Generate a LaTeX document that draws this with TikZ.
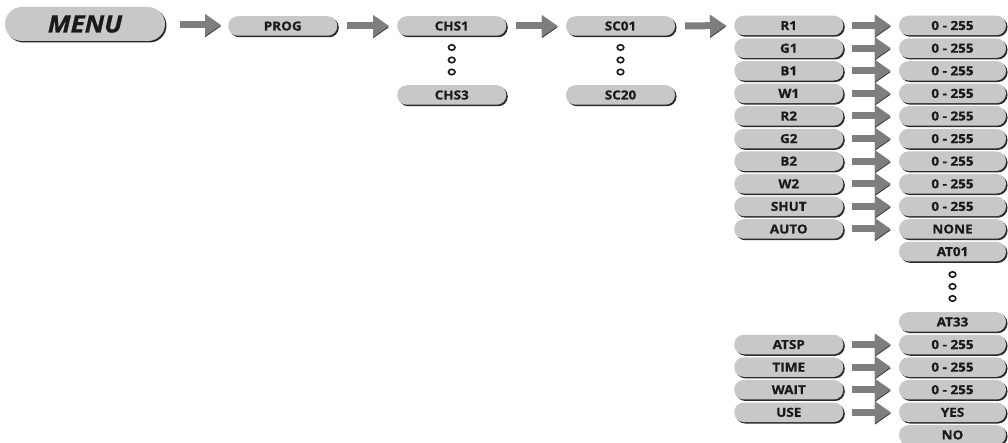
\documentclass[tikz,border=0pt]{standalone}
\usepackage{fontspec}
\setmainfont{Open Sans}
\newfontfamily\btnfont[FakeStretch=1.08,FakeBold=0.6]{Open Sans Bold}
\newfontfamily\menufont[FakeStretch=1.08,FakeBold=0.8]{Open Sans Bold Italic}
\usetikzlibrary{shadows,arrows.meta,shapes.geometric}
\definecolor{btngray}{HTML}{C8C8C8}
\definecolor{shadowgray}{HTML}{2A2A2A}
\definecolor{txt}{HTML}{1A1A1A}
\definecolor{arrowgray}{HTML}{7E7E7E}
\definecolor{arrowdark}{HTML}{3A3A3A}
\tikzset{
  btn/.style={rounded corners=9.5pt, fill=btngray, minimum width=109pt, minimum height=19.5pt,
    inner sep=0pt, font=\btnfont\fontsize{12.5pt}{13pt}\selectfont, text=txt,
    text height=9pt, text depth=0pt,
    drop shadow={shadow xshift=1.5pt, shadow yshift=-1.5pt, opacity=1, fill=shadowgray}},
  menubtn/.style={btn, rounded corners=17pt, minimum width=160pt, minimum height=34pt,
    font=\menufont\fontsize{24pt}{26pt}\selectfont, text height=17pt},
  garrow/.style={line width=7pt, draw=arrowgray,
    -{Triangle[width=21pt,length=16pt]},
    preaction={draw=arrowdark, transform canvas={yshift=-1.2pt}}},
  dot/.style={ellipse, draw=txt, line width=1.6pt, minimum width=6.5pt, minimum height=5.5pt, inner sep=0pt}
}
\newcommand{\garr}[3][10pt]{\draw[garrow] ([xshift=#1]#2.east) -- ([xshift=-8pt]#3.west);}
\begin{document}
\begin{tikzpicture}[x=1pt,y=-1pt]
\useasboundingbox (0,0) rectangle (1008,443);
\node[menubtn] (menu) at (85,24) {MENU};
\node[btn] (prog) at (282.75,26) {PROG};
\node[btn] (chs1) at (451.75,26) {CHS1};
\node[btn] (chs3) at (451.75,95) {CHS3};
\node[btn] (sc01) at (620.5,26) {SC01};
\node[btn] (sc20) at (620.5,95) {SC20};
\foreach \n/\y in {a/47.5,b/60,c/72}{
  \node[dot] (chsdot\n) at (451.75,\y) {};
  \node[dot] (scdot\n) at (620.5,\y) {};
}
% left column
\foreach \nm/\t/\y in {r1/R1/25.5, g1/G1/48.2, b1/B1/70.8, w1/W1/93.4, r2/R2/116, g2/G2/138.6, b2/B2/161.2, w2/W2/183.8, shut/SHUT/206.4, auto/AUTO/229, atsp/ATSP/344.5, time/TIME/367.1, wait/WAIT/389.7, use/USE/412.3}{
  \node[btn] (\nm) at (788.75,\y) {\t};
}
% right column
\foreach \nm/\t/\y in {vr1/0 - 255/25.5, vg1/0 - 255/48.2, vb1/0 - 255/70.8, vw1/0 - 255/93.4, vr2/0 - 255/116, vg2/0 - 255/138.6, vb2/0 - 255/161.2, vw2/0 - 255/183.8, vshut/0 - 255/206.4, none/NONE/229, at01/AT01/251.6, at33/AT33/321.9, vatsp/0 - 255/344.5, vtime/0 - 255/367.1, vwait/0 - 255/389.7, yes/YES/412.3, no/NO/434.9}{
  \node[btn, minimum width=107pt] (\nm) at (952.5,\y) {\t};
}
\foreach \n/\y in {a/274.5,b/286.5,c/298.5}{
  \node[dot] (atdot\n) at (952.5,\y) {};
}
\draw[garrow] ([xshift=15pt,yshift=-1pt]menu.east) -- ([xshift=-7pt,yshift=-1pt]menu.east -| prog.west);
\garr{prog}{chs1}
\garr{chs1}{sc01}
\garr{sc01}{r1}
\garr[8.5pt]{r1}{vr1}
\garr[8.5pt]{g1}{vg1}
\garr[8.5pt]{b1}{vb1}
\garr[8.5pt]{w1}{vw1}
\garr[8.5pt]{r2}{vr2}
\garr[8.5pt]{g2}{vg2}
\garr[8.5pt]{b2}{vb2}
\garr[8.5pt]{w2}{vw2}
\garr[8.5pt]{shut}{vshut}
\garr[8.5pt]{auto}{none}
\garr[8.5pt]{atsp}{vatsp}
\garr[8.5pt]{time}{vtime}
\garr[8.5pt]{wait}{vwait}
\garr[8.5pt]{use}{yes}
\end{tikzpicture}
\end{document}
